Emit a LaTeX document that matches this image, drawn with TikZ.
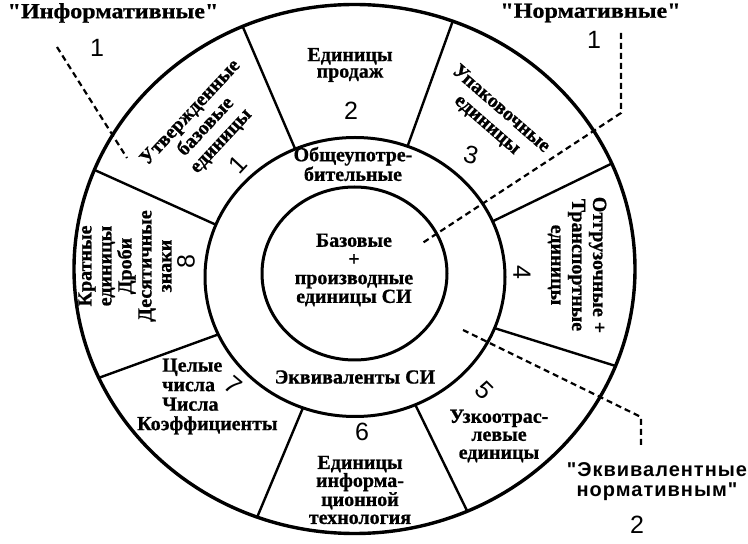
\documentclass[tikz,border=0pt]{standalone}
\usepackage{fontspec}
\setmainfont{Liberation Serif}[BoldFeatures={FakeBold=0.8}]
\newfontfamily\numfam{Liberation Sans}
\newfontfamily\titlefam{Liberation Serif Bold}[FakeStretch=1.12, FakeBold=0.8]
\newfontfamily\eqfam{Liberation Sans Bold}[LetterSpace=5]
\usetikzlibrary{calc}
\begin{document}
\begin{tikzpicture}[x=1pt,y=1pt,
  outerring/.style={line width=3.4pt},
  ring/.style={line width=3pt},
  divider/.style={line width=2.4pt},
  dashln/.style={line width=2.2pt, dash pattern=on 6pt off 4pt},
  segtxt/.style={font=\fontsize{20}{18}\selectfont\bfseries, align=center, inner sep=0pt},
  rotseg/.style={segtxt, font=\fontsize{20}{21}\selectfont\bfseries},
  numtxt/.style={font=\numfam\fontsize{25}{25}\selectfont, inner sep=0pt},
  titletxt/.style={font=\titlefam\fontsize{21.5}{21.5}\selectfont, inner sep=0pt},
  eqtxt/.style={font=\eqfam\fontsize{20}{20}\selectfont, align=center, inner sep=0pt},
]
\useasboundingbox (0,0) rectangle (748,544);
\fill[white] (0,0) rectangle (748,544);
\coordinate (cO) at (354.5,275);
\coordinate (cM) at (355,267);
\coordinate (cI) at (354.5,270.5);
\draw[outerring] (cO) ellipse [x radius=280.5, y radius=264.5];
\draw[ring] (cM) ellipse [x radius=150, y radius=139.5];
\draw[ring] (cI) ellipse [x radius=92.5, y radius=86.5];
\foreach \t [count=\i] in {113.5,69.5,23.5,-21.5,-66.3,-110.3,-155.7,158}{
  \path (cM) ++(\t:150 and 139.5) coordinate (m\i);
  \path (cO) ++(\t:280.5 and 264.5) coordinate (o\i);
  \draw[divider] (m\i) -- (o\i);
}
% dashed pointers
\coordinate (da1) at (57,497);
\coordinate (da2) at (127,386);
\draw[dashln] (da1) -- (da2);
\coordinate (db1) at (621,511);
\coordinate (db2) at (621,431);
\coordinate (db3) at (421,300);
\draw[dashln] (db1) -- (db2) -- (db3);
\coordinate (dc1) at (463,214);
\coordinate (dc2) at (641,127);
\coordinate (dc3) at (641,97);
\draw[dashln] (dc1) -- (dc2) -- (dc3);
% titles
\node[titletxt] (tinfo) at (113,531) {"Информативные"};
\node[numtxt] (ninfo) at (97,496) {1};
\node[titletxt] (tnorm) at (590.5,531) {"Нормативные"};
\node[numtxt] (nnorm) at (594,504) {1};
\node[eqtxt] (tequiv) at (657,62) {"Эквивалентные\\нормативным"};
\node[numtxt] (nequiv) at (637,19) {2};
% segment texts
\node[rotseg, rotate=47] (s1) at (206,417) {Утвержденные\\базовые\\единицы};
\node[numtxt, rotate=47] (n1) at (238,379) {1};
\node[segtxt, font=\fontsize{20}{16.5}\selectfont\bfseries] (s2) at (350,479) {Единицы\\продаж};
\node[numtxt] (n2) at (351,433) {2};
\node[rotseg, rotate=-41] (s3) at (494,427) {Упаковочные\\единицы};
\node[numtxt, rotate=-15] (n3) at (471,389) {3};
\node[rotseg, rotate=-90] (s4) at (577,279) {Отгрузочные +\\Транспортные\\единицы};
\node[numtxt, rotate=-90] (n4) at (522,272) {4};
\node[segtxt] (s5) at (499,108) {Узкоотрас-\\левые\\единицы};
\node[numtxt, rotate=-45] (n5) at (484,154) {5};
\node[segtxt] (s6) at (360,54) {Единицы\\информа-\\ционной\\технология};
\node[numtxt] (n6) at (362,112) {6};
\node[segtxt, font=\fontsize{20}{19.5}\selectfont\bfseries, align=left, anchor=west] (s7) at (137,147.5) {\hspace*{25pt}Целые\\\hspace*{25pt}числа\\\hspace*{25pt}Числа\\Коэффициенты};
\node[numtxt, rotate=-40] (n7) at (233,159) {7};
\node[segtxt, font=\fontsize{20}{20}\selectfont\bfseries, rotate=90] (s8) at (125,278) {Кратные\\единицы\\Дроби\\Десятичные\\знаки};
\node[numtxt, rotate=90] (n8) at (186,282) {8};
% middle ring
\node[segtxt] (m1t) at (353,380) {Общеупотре-\\бительные};
\node[segtxt] (m2t) at (355,167) {Эквиваленты СИ};
% inner
\node[segtxt, font=\fontsize{20}{18.7}\selectfont\bfseries] (it) at (354,274) {Базовые\\+\\производные\\единицы СИ};
\end{tikzpicture}
\end{document}
